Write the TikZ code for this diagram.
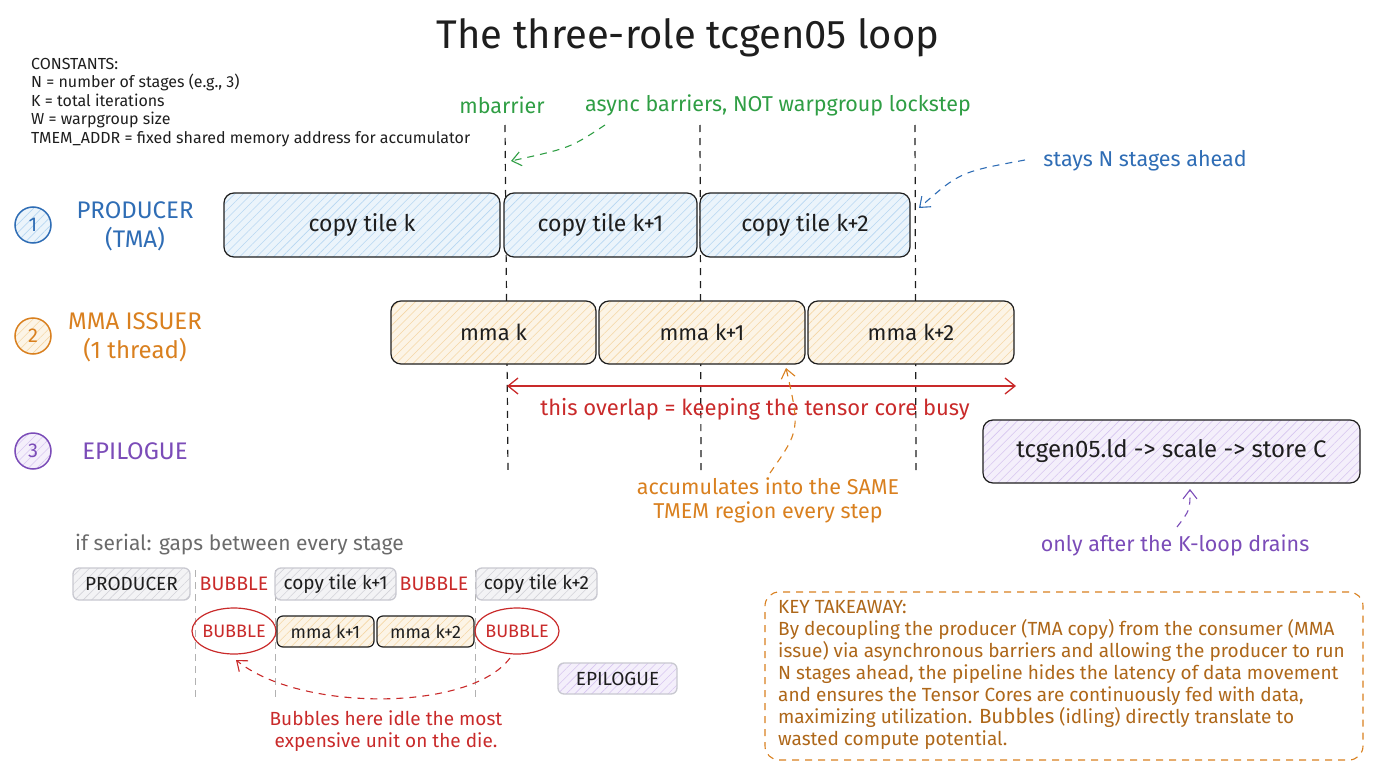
\documentclass[tikz,border=0pt]{standalone}
\usepackage{fontspec}
\setmainfont{Fira Sans}
\usetikzlibrary{arrows.meta,patterns.meta,shapes.geometric}
\definecolor{cblue}{HTML}{2F6DB5}
\definecolor{corange}{HTML}{D9801F}
\definecolor{cgreen}{HTML}{2F9E44}
\definecolor{cred}{HTML}{C92A2A}
\definecolor{cpurple}{HTML}{7B4CB8}
\definecolor{cgray}{HTML}{6B6B6B}
\definecolor{ink}{HTML}{1E1E1E}
\definecolor{hblue}{HTML}{A5CDEF}
\definecolor{horange}{HTML}{F2CC8F}
\definecolor{hpurple}{HTML}{CDB8EC}
\definecolor{hgray}{HTML}{C8C8D0}
\newcommand\fsz[2]{\fontsize{#1}{#2}\selectfont}
\tikzset{
  x=1pt, y=-1pt,
  hatch/.style={preaction={fill=#1!22}, pattern={Lines[angle=45,distance=6pt,line width=0.6pt]}, pattern color=#1!80},
  tile/.style={draw=ink, line width=1.2pt, rounded corners=10pt, inner sep=0pt, align=center, font=\fsz{23}{26}, text=ink},
  smalltile/.style={rounded corners=6pt, inner sep=0pt, align=center, font=\fsz{19}{22}, text=ink, minimum height=31pt},
  roundel/.style={circle, minimum size=36pt, inner sep=0pt, line width=1.5pt, font=\fsz{20}{22}},
  rolelabel/.style={align=center, font=\fsz{24}{29}},
  barrier/.style={draw=ink, line width=1.2pt, dash pattern=on 7pt off 6pt},
  gbarrier/.style={draw=gray!60, line width=1pt, dash pattern=on 7pt off 5pt},
  note/.style={dashed, line width=1.1pt, dash pattern=on 7pt off 6pt, -{Straight Barb[length=9pt,width=14pt]}},
  notetext/.style={font=\fsz{21.5}{24}},
  bubble/.style={text=cred, font=\fsz{19.5}{22}},
  bubbleoval/.style={text=cred, font=\fsz{18}{20}, ellipse, draw=cred, line width=1.2pt, minimum width=84pt, minimum height=46pt, inner xsep=-7pt, inner ysep=0pt},
}
\begin{document}
\begin{tikzpicture}
\useasboundingbox (0,0) rectangle (1376,768);

% title
\node[font=\fsz{40}{46}, text=ink] (title) at (688,38) {The three-role tcgen05 loop};

% constants
\node[anchor=north west, align=left, font=\fsz{16}{18.5}, text=ink, inner sep=0pt] (consts) at (31,58)
 {CONSTANTS:\\ N = number of stages (e.g., 3)\\ K = total iterations\\ W = warpgroup size\\ TMEM\_ADDR = fixed shared memory address for accumulator};

% barrier labels
\node[text=cgreen, notetext] (mbar) at (502,105) {mbarrier};
\node[text=cgreen, notetext] (async) at (778,105) {async barriers, NOT warpgroup lockstep};

% barrier lines
\coordinate (b1t) at (505,125); \coordinate (b1b) at (508,472);
\coordinate (b2t) at (700,125); \coordinate (b2b) at (701,470);
\coordinate (b3t) at (915,125); \coordinate (b3b) at (916,470);
\draw[barrier] (b1t) -- (b1b);
\draw[barrier] (b2t) -- (b2b);
\draw[barrier] (b3t) -- (b3b);

% roles
\node[roundel, draw=cblue, text=cblue, hatch=hblue] (r1) at (33,225) {1};
\node[rolelabel, text=cblue] (l1) at (135,226) {PRODUCER\\(TMA)};
\node[roundel, draw=corange, text=corange, hatch=horange] (r2) at (33,336) {2};
\node[rolelabel, text=corange] (l2) at (135,337) {MMA ISSUER\\(1 thread)};
\node[roundel, draw=cpurple, text=cpurple, hatch=hpurple] (r3) at (33,451) {3};
\node[rolelabel, text=cpurple] (l3) at (135,451) {EPILOGUE};

% producer row
\node[tile, hatch=hblue, minimum width=276pt, minimum height=64pt] (p1) at (362,225) {copy tile k};
\node[tile, hatch=hblue, minimum width=193pt, minimum height=64pt] (p2) at (600.5,225) {copy tile k+1};
\node[tile, hatch=hblue, minimum width=210pt, minimum height=64pt] (p3) at (805,225) {copy tile k+2};

% mma row
\node[tile, hatch=horange, minimum width=205pt, minimum height=63pt, font=\fsz{22}{26}] (m1) at (493.5,332.5) {mma k};
\node[tile, hatch=horange, minimum width=206pt, minimum height=63pt, font=\fsz{22}{26}] (m2) at (702,332.5) {mma k+1};
\node[tile, hatch=horange, minimum width=206pt, minimum height=63pt, font=\fsz{22}{26}] (m3) at (911,332.5) {mma k+2};

% epilogue
\node[tile, hatch=hpurple, minimum width=377pt, minimum height=63pt, font=\fsz{24}{26}] (e1) at (1171.5,451.5) {tcgen05.ld -> scale -> store C};

% overlap arrow
\coordinate (ov1) at (507,386); \coordinate (ov2) at (1016,386);
\draw[cred, line width=1.3pt, {Straight Barb[length=10pt,width=16pt]}-{Straight Barb[length=10pt,width=16pt]}] (ov1) -- (ov2);
\node[text=cred, font=\fsz{22}{24}] (ovl) at (755,409) {this overlap = keeping the tensor core busy};

% notes
\coordinate (g1) at (605,125); \coordinate (g2) at (511,161);
\draw[note, cgreen] (g1) .. controls (570,148) .. (g2);

\node[text=cblue, notetext] (stays) at (1145,161) {stays N stages ahead};
\coordinate (s1) at (1025,160); \coordinate (s2) at (919,208);
\draw[note, cblue] (s1) .. controls (960,172) .. (s2);

\node[text=corange, align=center, notetext] (acc) at (768,500) {accumulates into the SAME\\TMEM region every step};
\coordinate (a1) at (770,473); \coordinate (a2) at (786,368);
\draw[note, corange] (a1) .. controls (800,430) .. (a2);

\node[text=cpurple, notetext] (drain) at (1175,545) {only after the K-loop drains};
\coordinate (d1) at (1177,527); \coordinate (d2) at (1190,489);
\draw[note, cpurple] (d1) .. controls (1190,510) .. (d2);

% serial section
\node[anchor=west, text=cgray, font=\fsz{21}{24}, inner sep=0pt] (serial) at (75,545) {if serial: gaps between every stage};

\coordinate (v1t) at (195,570); \coordinate (v1b) at (195,698);
\coordinate (v2t) at (275,570); \coordinate (v2b) at (275,698);
\coordinate (v3t) at (475,570); \coordinate (v3b) at (475,698);
\draw[gbarrier] (v1t) -- (v1b);
\draw[gbarrier] (v2t) -- (v2b);
\draw[gbarrier] (v3t) -- (v3b);

\node[smalltile, draw=hgray, line width=1.3pt, hatch=hgray, minimum width=117pt, minimum height=32pt] (sp) at (131.5,584) {PRODUCER};
\node[bubble] (bb1) at (234,584) {BUBBLE};
\node[smalltile, draw=hgray, line width=1.3pt, hatch=hgray, minimum width=121pt, minimum height=32pt] (sc1) at (335.5,584) {copy tile k+1};
\node[bubble] (bb2) at (434,584) {BUBBLE};
\node[smalltile, draw=hgray, line width=1.3pt, hatch=hgray, minimum width=121pt, minimum height=32pt] (sc2) at (536.5,584) {copy tile k+2};

\node[bubbleoval] (eb1) at (234,631) {BUBBLE};
\node[smalltile, draw=ink, line width=1.2pt, hatch=horange, minimum width=97pt, font=\fsz{18}{20}] (sm1) at (325.5,631.5) {mma k+1};
\node[smalltile, draw=ink, line width=1.2pt, hatch=horange, minimum width=97pt, font=\fsz{18}{20}] (sm2) at (425.5,631.5) {mma k+2};
\node[bubbleoval] (eb2) at (517,631) {BUBBLE};

\node[smalltile, draw=hgray, line width=1.3pt, hatch=hpurple, minimum width=119pt] (sep) at (617.5,678.5) {EPILOGUE};

\coordinate (bu1) at (510,658); \coordinate (bu2) at (236,660);
\draw[note, cred] (bu1) .. controls (470,712) and (300,712) .. (bu2);
\node[text=cred, align=center, font=\fsz{19}{22}] (idle) at (386,731) {Bubbles here idle the most\\expensive unit on the die.};

% key takeaway
\node[draw=corange, dashed, dash pattern=on 7pt off 6pt, line width=1.1pt, rounded corners=14pt, minimum width=598pt, minimum height=168pt, inner sep=0pt] (kt) at (1064,676) {};
\node[anchor=north west, align=left, text=corange!80!black, font=\fsz{19}{22}, inner sep=0pt] (ktt) at (778,600)
 {KEY TAKEAWAY:\\
 By decoupling the producer (TMA copy) from the consumer (MMA\\
 issue) via asynchronous barriers and allowing the producer to run\\
 N stages ahead, the pipeline hides the latency of data movement\\
 and ensures the Tensor Cores are continuously fed with data,\\
 maximizing utilization. {\fsz{20.5}{22}Bubbles} (idling) directly translate to\\
 wasted compute potential.};
\end{tikzpicture}
\end{document}
